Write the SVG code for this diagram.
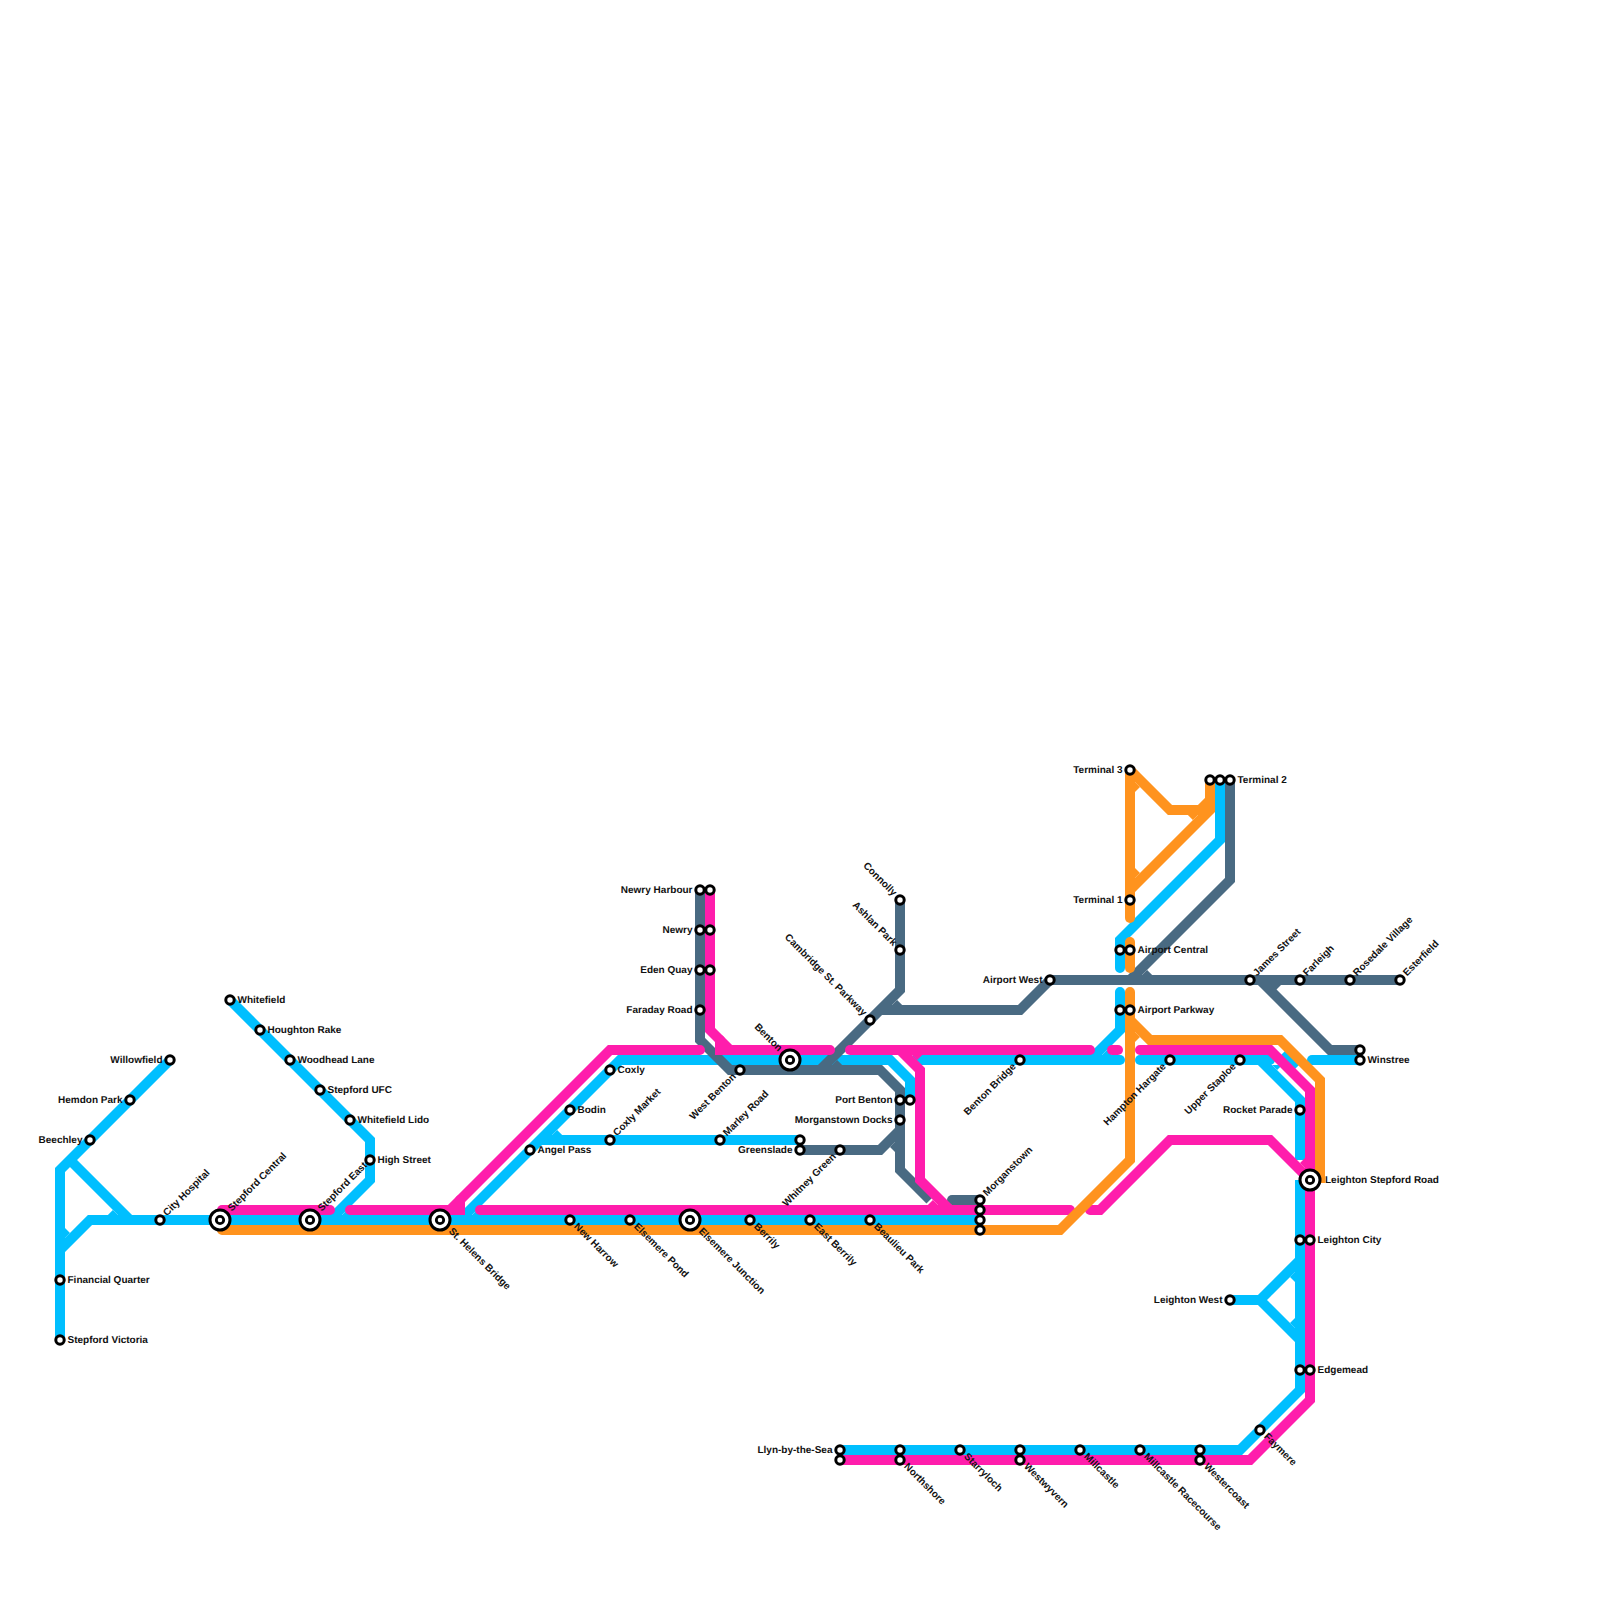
<svg xmlns="http://www.w3.org/2000/svg" width="1600" height="1600" viewBox="0 0 1600 1600">
<style>
.l{fill:none;stroke-width:10;stroke-linejoin:miter}
.r{stroke-linecap:round}
.b{stroke:#00bfff}.p{stroke:#ff1dac}.o{stroke:#ff931e}.s{stroke:#496a82}
.fb{fill:#00bfff}.fp{fill:#ff1dac}.fo{fill:#ff931e}.fs{fill:#496a82}
.st{fill:#fff;stroke:#000;stroke-width:3}
.big{fill:#fff;stroke:#000;stroke-width:3}
.dot{fill:#fff;stroke:#000;stroke-width:2.8}
text{font-family:"Liberation Sans",Arial,sans-serif;font-size:10px;font-weight:700;fill:#111;text-rendering:geometricPrecision}
.e{text-anchor:end}
</style>
<g id="connectors">
<g id="line-blue">
<path class="l b" d="M60 1340V1170L170 1060"/>
<path class="l b" d="M70 1160L130 1220"/>
<path class="l b" d="M60 1250L90 1220H980"/>
<path class="l b" d="M230 1000L370 1140V1180L330 1220"/>
<path class="l b" d="M460 1220L620 1060H890L910 1080V1100"/>
<path class="l b" d="M540 1140H800"/>
<path class="l b r" d="M915 1060H1120"/>
<path class="l b r" d="M1120 992V1030L1090 1060"/>
<path class="l b r" d="M1220 780V840L1120 940V968"/>
<path class="l b r" d="M1140 1060H1270"/>
<path class="l b" d="M1260 1060L1300 1100V1160"/>
<path class="l b" d="M1283 1053L1297 1067"/>
<path class="l b r" d="M1312 1060H1360"/>
<path class="l b" d="M1300 1180V1390L1240 1450H840"/>
<path class="l b" d="M1230 1300H1260L1300 1260M1260 1300L1300 1340"/>
<polygon class="fb" points="117.9,1215 107.9,1215 112.9,1210"/>
<polygon class="fb" points="65,1237.9 65,1227.9 70,1232.9"/>
<polygon class="fb" points="552.1,1135 562.1,1135 557.1,1130"/>
<polygon class="fb" points="1295,1272.1 1295,1282.1 1290,1277.1"/>
<polygon class="fb" points="1295,1327.9 1295,1317.9 1290,1322.9"/>
<polygon class="fb" points="1272.1,1065 1282.1,1065 1277.1,1070"/>
<polygon class="fb" points="1102.1,1055 1112.1,1055 1107.1,1050"/>
<polygon class="fb" points="472.1,1215 482.1,1215 477.1,1210"/>
<polygon class="fb" points="342.1,1215 352.1,1215 347.1,1210"/>
</g>
<g id="line-slate">
<path class="l s" d="M700 890V1040L730 1070H880L900 1090V1170L930 1200"/>
<path class="l s" d="M900 900V990L820 1070"/>
<path class="l s" d="M880 1010H1020L1050 980H1400"/>
<path class="l s" d="M1230 780V880L1130 980"/>
<path class="l s" d="M1260 980L1330 1050H1360"/>
<path class="l s" d="M800 1150H880L900 1130"/>
<path class="l s r" d="M952 1200H980"/>
<polygon class="fs" points="1271,985 1281,985 1276,990"/>
<polygon class="fs" points="892.1,1005 902.1,1005 897.1,1000"/>
<polygon class="fs" points="832.1,1065 842.1,1065 837.1,1060"/>
<polygon class="fs" points="895,1142.1 895,1152.1 890,1147.1"/>
<polygon class="fs" points="1142.1,975 1152.1,975 1147.1,970"/>
</g>
<g id="line-pink">
<path class="l p r" d="M840 1460H1250L1310 1400V1090L1270 1050H1140"/>
<path class="l p r" d="M222 1210H330"/>
<path class="l p r" d="M350 1210H450L610 1050H700"/>
<path class="l p r" stroke-linejoin="round" d="M460 1200V1210H450"/>
<path class="l p r" d="M480 1210H1070"/>
<path class="l p r" d="M1090 1210H1100L1170 1140H1270L1310 1180"/>
<path class="l p r" d="M710 890V1030L730 1050H830"/>
<path class="l p r" stroke-linejoin="round" d="M720 1040V1050H730"/>
<path class="l p r" d="M850 1050H1090"/>
<path class="l p r" d="M1112 1050H1118"/>
<path class="l p" d="M900 1050L920 1070V1180L950 1210"/>
<polygon class="fp" points="912.1,1055 922.1,1055 917.1,1060"/>
<polygon class="fp" points="937.9,1205 927.9,1205 932.9,1200"/>
<polygon class="fp" points="1305,1167.9 1305,1157.9 1300,1162.9"/>
</g>
<g id="line-orange">
<path class="l o r" d="M222 1230H1060L1130 1160V992"/>
<path class="l o" d="M1130 1020L1150 1040H1280L1320 1080V1183"/>
<path class="l o r" d="M1130 918V770"/>
<path class="l o" d="M1130 770L1170 810H1200L1210 800V780M1130 890L1210 810V800"/>
<path class="l o r" d="M1130 942V968"/>
<polygon class="fo" points="1135,782.1 1135,792.1 1140,787.1"/>
<polygon class="fo" points="1135,877.9 1135,867.9 1140,872.9"/>
<polygon class="fo" points="1197.9,815 1187.9,815 1192.9,820"/>
<polygon class="fo" points="1135,1032.1 1135,1042.1 1140,1037.1"/>
</g>
</g>
<g id="stations">
<g id="whitefield"><circle class="st" cx="230" cy="1000" r="4.2"/><text x="237.5" y="1002.5">Whitefield</text></g>
<g id="houghton-rake"><circle class="st" cx="260" cy="1030" r="4.2"/><text x="267.5" y="1032.5">Houghton Rake</text></g>
<g id="woodhead-lane"><circle class="st" cx="290" cy="1060" r="4.2"/><text x="297.5" y="1062.5">Woodhead Lane</text></g>
<g id="stepford-ufc"><circle class="st" cx="320" cy="1090" r="4.2"/><text x="327.5" y="1092.5">Stepford UFC</text></g>
<g id="whitefield-lido"><circle class="st" cx="350" cy="1120" r="4.2"/><text x="357.5" y="1122.5">Whitefield Lido</text></g>
<g id="high-street"><circle class="st" cx="370" cy="1160" r="4.2"/><text x="377.5" y="1162.5">High Street</text></g>
<g id="willowfield"><circle class="st" cx="170" cy="1060" r="4.2"/><text class="e" x="162.5" y="1062.5">Willowfield</text></g>
<g id="hemdon-park"><circle class="st" cx="130" cy="1100" r="4.2"/><text class="e" x="122.5" y="1102.5">Hemdon Park</text></g>
<g id="beechley"><circle class="st" cx="90" cy="1140" r="4.2"/><text class="e" x="82.5" y="1142.5">Beechley</text></g>
<g id="financial-quarter"><circle class="st" cx="60" cy="1280" r="4.2"/><text x="67.5" y="1282.5">Financial Quarter</text></g>
<g id="stepford-victoria"><circle class="st" cx="60" cy="1340" r="4.2"/><text x="67.5" y="1342.5">Stepford Victoria</text></g>
<g id="city-hospital"><circle class="st" cx="160" cy="1220" r="4.2"/><text transform="rotate(-45 160 1220)" x="167.5" y="1222.5">City Hospital</text></g>
<g id="stepford-central"><circle class="big" cx="220" cy="1220" r="10"/><circle class="dot" cx="220" cy="1220" r="3.7"/><text transform="rotate(-45 220 1220)" x="234" y="1222.5">Stepford Central</text></g>
<g id="stepford-east"><circle class="big" cx="310" cy="1220" r="10"/><circle class="dot" cx="310" cy="1220" r="3.7"/><text transform="rotate(-45 310 1220)" x="324" y="1222.5">Stepford East</text></g>
<g id="st-helens-bridge"><circle class="big" cx="440" cy="1220" r="10"/><circle class="dot" cx="440" cy="1220" r="3.7"/><text transform="rotate(45 440 1220)" x="454" y="1222.5">St. Helens Bridge</text></g>
<g id="new-harrow"><circle class="st" cx="570" cy="1220" r="4.2"/><text transform="rotate(45 570 1220)" x="577.5" y="1222.5">New Harrow</text></g>
<g id="elsemere-pond"><circle class="st" cx="630" cy="1220" r="4.2"/><text transform="rotate(45 630 1220)" x="637.5" y="1222.5">Elsemere Pond</text></g>
<g id="elsemere-junction"><circle class="big" cx="690" cy="1220" r="10"/><circle class="dot" cx="690" cy="1220" r="3.7"/><text transform="rotate(45 690 1220)" x="704" y="1222.5">Elsemere Junction</text></g>
<g id="berrily"><circle class="st" cx="750" cy="1220" r="4.2"/><text transform="rotate(45 750 1220)" x="757.5" y="1222.5">Berrily</text></g>
<g id="east-berrily"><circle class="st" cx="810" cy="1220" r="4.2"/><text transform="rotate(45 810 1220)" x="817.5" y="1222.5">East Berrily</text></g>
<g id="beaulieu-park"><circle class="st" cx="870" cy="1220" r="4.2"/><text transform="rotate(45 870 1220)" x="877.5" y="1222.5">Beaulieu Park</text></g>
<g id="angel-pass"><circle class="st" cx="530" cy="1150" r="4.2"/><text x="537.5" y="1152.5">Angel Pass</text></g>
<g id="bodin"><circle class="st" cx="570" cy="1110" r="4.2"/><text x="577.5" y="1112.5">Bodin</text></g>
<g id="coxly"><circle class="st" cx="610" cy="1070" r="4.2"/><text x="617.5" y="1072.5">Coxly</text></g>
<g id="coxly-market"><circle class="st" cx="610" cy="1140" r="4.2"/><text transform="rotate(-45 610 1140)" x="617.5" y="1142.5">Coxly Market</text></g>
<g id="marley-road"><circle class="st" cx="720" cy="1140" r="4.2"/><text transform="rotate(-45 720 1140)" x="727.5" y="1142.5">Marley Road</text></g>
<g id="greenslade"><circle class="st" cx="800" cy="1140" r="4.2"/><circle class="st" cx="800" cy="1150" r="4.2"/><text class="e" x="792.5" y="1152.5">Greenslade</text></g>
<g id="whitney-green"><circle class="st" cx="840" cy="1150" r="4.2"/><text class="e" transform="rotate(-45 840 1150)" x="832.5" y="1152.5">Whitney Green</text></g>
<g id="newry-harbour"><circle class="st" cx="700" cy="890" r="4.2"/><circle class="st" cx="710" cy="890" r="4.2"/><text class="e" x="692.5" y="892.5">Newry Harbour</text></g>
<g id="newry"><circle class="st" cx="700" cy="930" r="4.2"/><circle class="st" cx="710" cy="930" r="4.2"/><text class="e" x="692.5" y="932.5">Newry</text></g>
<g id="eden-quay"><circle class="st" cx="700" cy="970" r="4.2"/><circle class="st" cx="710" cy="970" r="4.2"/><text class="e" x="692.5" y="972.5">Eden Quay</text></g>
<g id="faraday-road"><circle class="st" cx="700" cy="1010" r="4.2"/><text class="e" x="692.5" y="1012.5">Faraday Road</text></g>
<g id="west-benton"><circle class="st" cx="740" cy="1070" r="4.2"/><text class="e" transform="rotate(-45 740 1070)" x="732.5" y="1072.5">West Benton</text></g>
<g id="benton"><circle class="big" cx="790" cy="1060" r="10"/><circle class="dot" cx="790" cy="1060" r="3.7"/><text class="e" transform="rotate(45 790 1060)" x="776" y="1062.5">Benton</text></g>
<g id="cambridge-st-parkway"><circle class="st" cx="870" cy="1020" r="4.2"/><text class="e" transform="rotate(45 870 1020)" x="862.5" y="1022.5">Cambridge St. Parkway</text></g>
<g id="ashlan-park"><circle class="st" cx="900" cy="950" r="4.2"/><text class="e" transform="rotate(45 900 950)" x="892.5" y="952.5">Ashlan Park</text></g>
<g id="connolly"><circle class="st" cx="900" cy="900" r="4.2"/><text class="e" transform="rotate(45 900 900)" x="892.5" y="902.5">Connolly</text></g>
<g id="port-benton"><circle class="st" cx="900" cy="1100" r="4.2"/><circle class="st" cx="910" cy="1100" r="4.2"/><text class="e" x="892.5" y="1102.5">Port Benton</text></g>
<g id="morganstown-docks"><circle class="st" cx="900" cy="1120" r="4.2"/><text class="e" x="892.5" y="1122.5">Morganstown Docks</text></g>
<g id="morganstown"><circle class="st" cx="980" cy="1200" r="4.2"/><circle class="st" cx="980" cy="1210" r="4.2"/><circle class="st" cx="980" cy="1220" r="4.2"/><circle class="st" cx="980" cy="1230" r="4.2"/><text transform="rotate(-45 980 1200)" x="987.5" y="1202.5">Morganstown</text></g>
<g id="benton-bridge"><circle class="st" cx="1020" cy="1060" r="4.2"/><text class="e" transform="rotate(-45 1020 1060)" x="1012.5" y="1062.5">Benton Bridge</text></g>
<g id="airport-west"><circle class="st" cx="1050" cy="980" r="4.2"/><text class="e" x="1042.5" y="982.5">Airport West</text></g>
<g id="terminal-3"><circle class="st" cx="1130" cy="770" r="4.2"/><text class="e" x="1122.5" y="772.5">Terminal 3</text></g>
<g id="terminal-2"><circle class="st" cx="1210" cy="780" r="4.2"/><circle class="st" cx="1220" cy="780" r="4.2"/><circle class="st" cx="1230" cy="780" r="4.2"/><text x="1237.5" y="782.5">Terminal 2</text></g>
<g id="terminal-1"><circle class="st" cx="1130" cy="900" r="4.2"/><text class="e" x="1122.5" y="902.5">Terminal 1</text></g>
<g id="airport-central"><circle class="st" cx="1120" cy="950" r="4.2"/><circle class="st" cx="1130" cy="950" r="4.2"/><text x="1137.5" y="952.5">Airport Central</text></g>
<g id="airport-parkway"><circle class="st" cx="1120" cy="1010" r="4.2"/><circle class="st" cx="1130" cy="1010" r="4.2"/><text x="1137.5" y="1012.5">Airport Parkway</text></g>
<g id="james-street"><circle class="st" cx="1250" cy="980" r="4.2"/><text transform="rotate(-45 1250 980)" x="1257.5" y="982.5">James Street</text></g>
<g id="farleigh"><circle class="st" cx="1300" cy="980" r="4.2"/><text transform="rotate(-45 1300 980)" x="1307.5" y="982.5">Farleigh</text></g>
<g id="rosedale-village"><circle class="st" cx="1350" cy="980" r="4.2"/><text transform="rotate(-45 1350 980)" x="1357.5" y="982.5">Rosedale Village</text></g>
<g id="esterfield"><circle class="st" cx="1400" cy="980" r="4.2"/><text transform="rotate(-45 1400 980)" x="1407.5" y="982.5">Esterfield</text></g>
<g id="winstree"><circle class="st" cx="1360" cy="1050" r="4.2"/><circle class="st" cx="1360" cy="1060" r="4.2"/><text x="1367.5" y="1062.5">Winstree</text></g>
<g id="hampton-hargate"><circle class="st" cx="1170" cy="1060" r="4.2"/><text class="e" transform="rotate(-45 1170 1060)" x="1162.5" y="1062.5">Hampton Hargate</text></g>
<g id="upper-staploe"><circle class="st" cx="1240" cy="1060" r="4.2"/><text class="e" transform="rotate(-45 1240 1060)" x="1232.5" y="1062.5">Upper Staploe</text></g>
<g id="rocket-parade"><circle class="st" cx="1300" cy="1110" r="4.2"/><text class="e" x="1292.5" y="1112.5">Rocket Parade</text></g>
<g id="leighton-stepford-road"><circle class="big" cx="1310" cy="1180" r="10"/><circle class="dot" cx="1310" cy="1180" r="3.7"/><text x="1325" y="1182.5">Leighton Stepford Road</text></g>
<g id="leighton-city"><circle class="st" cx="1300" cy="1240" r="4.2"/><circle class="st" cx="1310" cy="1240" r="4.2"/><text x="1317.5" y="1242.5">Leighton City</text></g>
<g id="leighton-west"><circle class="st" cx="1230" cy="1300" r="4.2"/><text class="e" x="1222.5" y="1302.5">Leighton West</text></g>
<g id="edgemead"><circle class="st" cx="1300" cy="1370" r="4.2"/><circle class="st" cx="1310" cy="1370" r="4.2"/><text x="1317.5" y="1372.5">Edgemead</text></g>
<g id="faymere"><circle class="st" cx="1260" cy="1430" r="4.2"/><text transform="rotate(45 1260 1430)" x="1267.5" y="1432.5">Faymere</text></g>
<g id="llyn-by-the-sea"><circle class="st" cx="840" cy="1450" r="4.2"/><circle class="st" cx="840" cy="1460" r="4.2"/><text class="e" x="832.5" y="1452.5">Llyn-by-the-Sea</text></g>
<g id="northshore"><circle class="st" cx="900" cy="1450" r="4.2"/><circle class="st" cx="900" cy="1460" r="4.2"/><text transform="rotate(45 900 1460)" x="907.5" y="1462.5">Northshore</text></g>
<g id="starryloch"><circle class="st" cx="960" cy="1450" r="4.2"/><text transform="rotate(45 960 1450)" x="967.5" y="1452.5">Starryloch</text></g>
<g id="westwyvern"><circle class="st" cx="1020" cy="1450" r="4.2"/><circle class="st" cx="1020" cy="1460" r="4.2"/><text transform="rotate(45 1020 1460)" x="1027.5" y="1462.5">Westwyvern</text></g>
<g id="millcastle"><circle class="st" cx="1080" cy="1450" r="4.2"/><text transform="rotate(45 1080 1450)" x="1087.5" y="1452.5">Millcastle</text></g>
<g id="millcastle-racecourse"><circle class="st" cx="1140" cy="1450" r="4.2"/><text transform="rotate(45 1140 1450)" x="1147.5" y="1452.5">Millcastle Racecourse</text></g>
<g id="westercoast"><circle class="st" cx="1200" cy="1450" r="4.2"/><circle class="st" cx="1200" cy="1460" r="4.2"/><text transform="rotate(45 1200 1460)" x="1207.5" y="1462.5">Westercoast</text></g>
</g>
</svg>
